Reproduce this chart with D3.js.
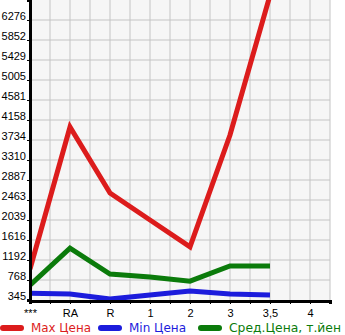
<!DOCTYPE html>
<html>
<head>
<meta charset="utf-8">
<script src="https://cdn.jsdelivr.net/npm/d3@7"></script>
<style>
body { margin: 0; background: #fff; }
svg { display: block; font-family: "DejaVu Sans", sans-serif; }
</style>
</head>
<body>
<div id="chart"></div>
<script>
// categories and values
var categories = ["***", "RA", "R", "1", "2", "3", "3,5", "4"];
var yTicks = [345, 768, 1192, 1616, 2039, 2463, 2887, 3310, 3734, 4158, 4581, 5005, 5429, 5852, 6276];
var maxPrice = [1000, 4010, 2610, 2040, 1470, 3840, 6800];
var minPrice = [490, 470, 365, 450, 535, 470, 450];
var avgPrice = [660, 1445, 895, 830, 745, 1065, 1065];
var legendNames = ["Max Цена", "Min Цена", "Сред.Цена, т.йен"];
var colors = ["#dc1c1c", "#1c1cdc", "#0b7b0b"];

var W = 345, H = 335;
var margin = {top: 0, right: 15, bottom: 35, left: 30},
    width = W - margin.left - margin.right,
    height = H - margin.top - margin.bottom;

var svg = d3.select("#chart").append("svg")
    .attr("width", W)
    .attr("height", H);

var g = svg.append("g")
    .attr("transform", "translate(" + margin.left + "," + margin.top + ")");

// x: one category every 40px, plot goes half a step past the last one
var x = d3.scaleLinear().domain([0, 7.5]).range([0, width]);
var step = 423.57;
var y = d3.scaleLinear().domain([345, 6276 + step]).range([height, 0]);

g.append("rect")
    .attr("width", width).attr("height", height)
    .attr("fill", "#f6f6f6");

// grid
var xGrid = d3.range(0.5, 7.51, 0.5);
g.selectAll(".vgrid").data(xGrid).enter().append("line")
    .attr("x1", function(d) { return x(d); })
    .attr("x2", function(d) { return x(d); })
    .attr("y1", 0).attr("y2", height)
    .attr("stroke", "#c4c4c4").attr("stroke-width", 1);
g.selectAll(".hgrid").data(yTicks.slice(1)).enter().append("line")
    .attr("x1", 0).attr("x2", width)
    .attr("y1", function(d) { return Math.round(y(d)); })
    .attr("y2", function(d) { return Math.round(y(d)); })
    .attr("stroke", "#c4c4c4").attr("stroke-width", 1);

g.append("defs").append("clipPath").attr("id", "clip")
    .append("rect").attr("width", width).attr("height", height + 5).attr("y", -5);

// lines
var line = d3.line()
    .x(function(d, i) { return x(i); })
    .y(function(d) { return y(d); });

[maxPrice, minPrice, avgPrice].forEach(function(s, k) {
    g.append("path")
        .datum(s)
        .attr("clip-path", "url(#clip)")
        .attr("fill", "none")
        .attr("stroke", colors[k])
        .attr("stroke-width", 5)
        .attr("stroke-linejoin", "miter")
        .attr("d", line);
});

// axes
var xAxis = g.append("g")
    .attr("transform", "translate(0," + (height + 1) + ")")
    .call(d3.axisBottom(x).tickValues(d3.range(0, 7.51, 0.5)).tickSize(3)
        .tickFormat(function(d) { return d % 1 === 0 ? categories[d] : ""; }));
xAxis.select(".domain").attr("stroke", "#000").attr("stroke-width", 3);
xAxis.selectAll("text").attr("font-size", 11).attr("fill", "#000").attr("dy", "0.9em");

var yAxis = g.append("g")
    .call(d3.axisLeft(y).tickValues(yTicks).tickSize(3).tickFormat(d3.format("d")));
yAxis.select(".domain").attr("stroke", "#000").attr("stroke-width", 3);
yAxis.selectAll("text").attr("font-size", 11).attr("fill", "#000")
    .attr("x", -4).attr("dy", "-0.05em");

// legend
var legendX = [0, 98, 198];
var legendLen = [60, 57, 112];
var lg = svg.append("g").attr("transform", "translate(0,328)");
legendNames.forEach(function(name, k) {
    lg.append("line")
        .attr("x1", legendX[k] + 3).attr("x2", legendX[k] + 21)
        .attr("y1", 0).attr("y2", 0)
        .attr("stroke", colors[k]).attr("stroke-width", 6)
        .attr("stroke-linecap", "round");
    lg.append("text")
        .attr("x", legendX[k] + 31).attr("y", 0).attr("dy", "0.35em")
        .attr("font-size", 12.5)
        .attr("textLength", legendLen[k])
        .attr("lengthAdjust", "spacingAndGlyphs")
        .attr("fill", colors[k])
        .text(name);
});
</script>
</body>
</html>
